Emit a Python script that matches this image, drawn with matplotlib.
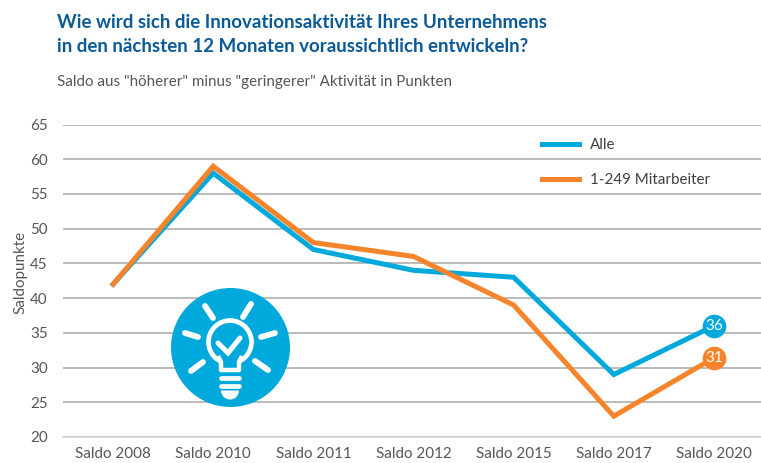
import matplotlib
matplotlib.use("Agg")
import matplotlib.pyplot as plt
from matplotlib.patches import Circle, Polygon, Wedge

plt.rcParams["font.family"] = ["Lato", "DejaVu Sans"]

# values
categories = ["Saldo 2008", "Saldo 2010", "Saldo 2011", "Saldo 2012",
              "Saldo 2015", "Saldo 2017", "Saldo 2020"]
alle = [42, 58, 47, 44, 43, 29, 36]
mitarbeiter = [42, 59, 48, 46, 39, 23, 31.4]
end_labels = ["36", "31"]
y_ticks = [20, 25, 30, 35, 40, 45, 50, 55, 60, 65]

BLUE = "#00a9dc"
ORANGE = "#f5842b"
TITLE = "#0b5a97"
TEXT = "#565656"
W, H = 761, 463

fig = plt.figure(figsize=(W / 100, H / 100), dpi=100)

# main axes placed by pixels
left, right, top, bottom = 63, 761, 124.5, 437
ax = fig.add_axes([left / W, 1 - bottom / H, (right - left) / W, (bottom - top) / H])
ax.set_xlim(-0.5, 6.47)
ax.set_ylim(20, 65)
ax.set_yticks(y_ticks)
ax.set_xticks(range(len(categories)))
ax.set_xticklabels(categories)
ax.tick_params(length=0, labelsize=10.9, labelcolor=TEXT)
ax.tick_params(axis="x", pad=7)
ax.tick_params(axis="y", pad=11)
ax.grid(axis="y", color="#a8a8a8", lw=1.1)
ax.set_axisbelow(True)
for s in ax.spines.values():
    s.set_visible(False)
ax.spines["bottom"].set_visible(True)
ax.spines["bottom"].set_color("#d2d2d2")
ax.spines["bottom"].set_linewidth(1.1)
ax.set_ylabel("Saldopunkte", fontsize=10.9, color=TEXT, labelpad=2, y=0.528)

ax.plot(range(7), alle, color=BLUE, lw=3.6, solid_joinstyle="miter", label="Alle", zorder=3)
ax.plot(range(7), mitarbeiter, color=ORANGE, lw=3.6, solid_joinstyle="miter",
        label="1-249 Mitarbeiter", zorder=4)

# end point badges
ax.plot(6, alle[-1], "o", ms=17, color=BLUE, zorder=5, mew=0)
ax.plot(6, mitarbeiter[-1], "o", ms=17, color=ORANGE, zorder=5, mew=0)
ax.text(6, alle[-1], end_labels[0], color="white", fontsize=10.9, ha="center", va="center", zorder=6)
ax.text(6, mitarbeiter[-1], end_labels[1], color="white", fontsize=10.9, ha="center", va="center", zorder=6)

ax.legend(loc="upper left", bbox_to_anchor=(0.686, 0.957), frameon=False, fontsize=10.9,
          labelcolor="#404040", handlelength=2.45, handletextpad=0.72, labelspacing=1.42,
          borderpad=0, borderaxespad=0)

# titles
fig.text(57 / W, 1 - 23 / H, "Wie wird sich die Innovationsaktivität Ihres Unternehmens",
         fontsize=13.5, fontweight="bold", color=TITLE, va="center")
fig.text(57 / W, 1 - 46 / H, "in den nächsten 12 Monaten voraussichtlich entwickeln?",
         fontsize=13.5, fontweight="bold", color=TITLE, va="center")
fig.text(57 / W, 1 - 82 / H, 'Saldo aus "höherer" minus "geringerer" Aktivität in Punkten',
         fontsize=10.9, color=TEXT, va="center")

# light bulb icon on an overlay in pixel space
ic = fig.add_axes([0, 0, 1, 1])
ic.set_xlim(0, W)
ic.set_ylim(H, 0)
ic.axis("off")
ic.patch.set_alpha(0)
ic.add_patch(Circle((230.5, 347.5), 59.5, color=BLUE, lw=0))
rays = [((205, 306), (213, 318)), ((251, 304), (243, 317)), ((185, 333), (198, 337)),
        ((275, 333), (261, 337)), ((191, 371), (203, 362)), ((268, 370), (255, 361))]
for a, b in rays:
    ic.plot([a[0], b[0]], [a[1], b[1]], color="white", lw=4.2, solid_capstyle="round")
ic.add_patch(Circle((230, 342), 21.5, fc="none", ec="white", lw=3.4))
ic.add_patch(Polygon([(219, 358), (241, 358), (240, 368), (220, 368)], fc=BLUE, ec="none", zorder=3))
ic.plot([219, 221, 221, 239, 239, 241], [358, 362, 370, 370, 362, 358], color="white", lw=3.2, zorder=4)
ic.plot([221, 239], [378, 378], color="white", lw=3.4, solid_capstyle="round")
ic.plot([221, 239], [386, 386], color="white", lw=3.4, solid_capstyle="round")
ic.add_patch(Wedge((230, 390.5), 9, 0, 180, fc="white", ec="none"))
ic.plot([218, 228, 240], [343, 353, 338], color="white", lw=3.6, solid_capstyle="round",
        solid_joinstyle="miter")

fig.savefig("out.png", dpi=100)
